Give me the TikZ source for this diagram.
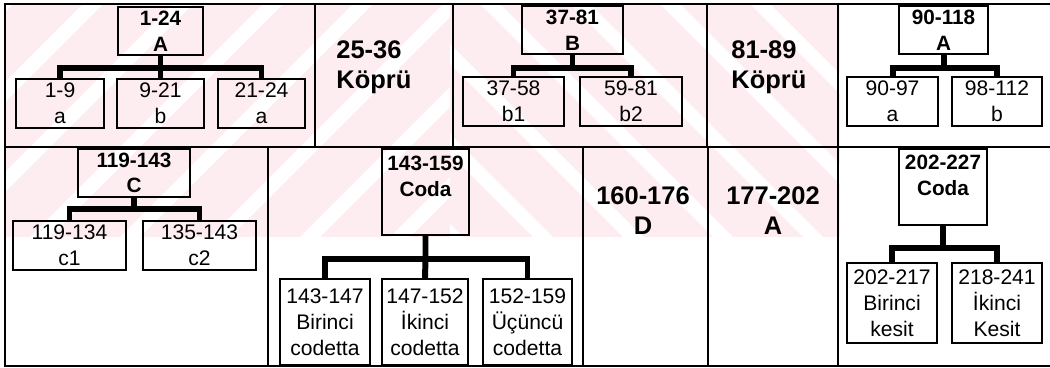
\documentclass[tikz,border=0pt]{standalone}
\usepackage{fontspec}
\setmainfont{Liberation Sans}
\usetikzlibrary{positioning}

\newcommand{\upx}{0.02cm}
\definecolor{wmpink}{RGB}{253,236,240}

\tikzset{
    wh/.style 2 args={minimum width=#1*\upx, minimum height=#2*\upx},
    cell/.style={draw, line width=1.1pt, inner sep=0pt, align=center,
        font=\fontsize{12}{14.8}\selectfont},
    headbox/.style={cell, font=\bfseries\fontsize{11.8}{14.6}\selectfont},
    headtxt/.style={inner sep=0pt, align=center, font=\bfseries\fontsize{11.8}{14.6}\selectfont},
    bigtxt/.style={inner sep=0pt, font=\bfseries\fontsize{14.5}{17}\selectfont},
    grid/.style={line width=0.85pt},
    brace/.style={line width=3.4pt},
}

\begin{document}
\begin{tikzpicture}[x=\upx, y=-\upx]
    \useasboundingbox (0,0) rectangle (1050,368);

    % 背景水印（粉色斜条）
    \begin{scope}
        \clip (5,4) rectangle (450,237);
        \fill[wmpink] (5,4) rectangle (450,237);
        \foreach \s in {-240,-150,...,460} {
            \fill[white] (\s,237) -- (\s+20,237) -- (\s+253,4) -- (\s+233,4) -- cycle;
        }
    \end{scope}
    \begin{scope}
        \clip (450,4) rectangle (840,237);
        \fill[wmpink] (450,4) rectangle (840,237);
        \foreach \s in {210,300,...,840} {
            \fill[white] (\s,4) -- (\s+20,4) -- (\s+253,237) -- (\s+233,237) -- cycle;
        }
    \end{scope}

    % 表格线
    \draw[grid] (1050,4) -- (5,4) -- (5,366) -- (1050,366);
    \draw[grid] (5,147) -- (1050,147);
    \foreach \x in {315,453,707,838} {
        \draw[grid] (\x,4) -- (\x,147);
    }
    \foreach \x in {268,583,708,838} {
        \draw[grid] (\x,147) -- (\x,366);
    }

    % 第一行
    \node[headbox, wh={85}{48}] (pA) at (160.5,31) {1-24\\A};
    \node[cell, wh={88}{49}] (a1) at (60,103.5) {1-9\\a};
    \node[cell, wh={87}{49}] (a2) at (160.5,103.5) {9-21\\b};
    \node[cell, wh={87}{49}] (a3) at (261.5,103.5) {21-24\\a};

    \node[bigtxt, align=left, anchor=west] (k1) at (336,67) {25-36\\Köprü};

    \node[headbox, wh={101}{48}] (pB) at (572.5,30) {37-81\\B};
    \node[cell, wh={101}{49}] (b1) at (513.5,101.5) {37-58\\b1};
    \node[cell, wh={102}{49}] (b2) at (631,101.5) {59-81\\b2};

    \node[bigtxt, align=left, anchor=west] (k2) at (731,67) {81-89\\Köprü};

    \node[headbox, wh={89}{48}] (pD) at (943.5,30) {90-118\\A};
    \node[cell, wh={91}{49}] (d1) at (892.5,101.5) {90-97\\a};
    \node[cell, wh={90}{49}] (d2) at (997,101.5) {98-112\\b};

    % 第二行
    \node[headbox, wh={112}{48}] (pC) at (134,173) {119-143\\C};
    \node[cell, wh={113}{49}] (c1) at (69.5,245.5) {119-134\\c1};
    \node[cell, wh={113}{49}] (c2) at (199.5,245.5) {135-143\\c2};

    \node[headbox, wh={87}{86}] (pE) at (425.5,192) {};
    \node[headtxt, anchor=north] (tE) at (425.5,156) {143-159\\Coda};
    \node[cell, wh={90}{86}] (e1) at (325,322) {143-147\\Birinci\\codetta};
    \node[cell, wh={86}{86}] (e2) at (425,322) {147-152\\İkinci\\codetta};
    \node[cell, wh={89}{86}] (e3) at (527.5,322) {152-159\\Üçüncü\\codetta};

    \node[bigtxt, align=center] (g1) at (643,211) {160-176\\D};
    \node[bigtxt, align=center] (g2) at (773,211) {177-202\\A};

    \node[headbox, wh={88}{76}] (pF) at (943,187) {};
    \node[headtxt, anchor=north] (tF) at (943,155) {202-227\\Coda};
    \node[cell, wh={90}{80}] (f1) at (892,303) {202-217\\Birinci\\kesit};
    \node[cell, wh={90}{80}] (f2) at (997,303) {218-241\\İkinci\\Kesit};

    % 连接线（粗括号）
    \path (pA.south) ++(0,12) coordinate (jA);
    \draw[brace] (a1.north) |- (jA) -| (a3.north);
    \draw[brace] (pA.south) -- (jA) -- (a2.north);

    \path (pB.south) ++(0,13) coordinate (jB);
    \draw[brace] (b1.north) |- (jB) -| (b2.north);
    \draw[brace] (pB.south) -- (jB);

    \path (pD.south) ++(0,13) coordinate (jD);
    \draw[brace] (d1.north) |- (jD) -| (d2.north);
    \draw[brace] (pD.south) -- (jD);

    \path (pC.south) ++(0,11) coordinate (jC);
    \draw[brace] (c1.north) |- (jC) -| (c2.north);
    \draw[brace] (pC.south) -- (jC);

    \path (pE.south) ++(0,23) coordinate (jE);
    \draw[brace] (e1.north) |- (jE) -| (e3.north);
    \draw[brace] (pE.south) -- (jE) -- (e2.north);

    \path (pF.south) ++(0,22) coordinate (jF);
    \draw[brace] (f1.north) |- (jF) -| (f2.north);
    \draw[brace] (pF.south) -- (jF);
\end{tikzpicture}
\end{document}
